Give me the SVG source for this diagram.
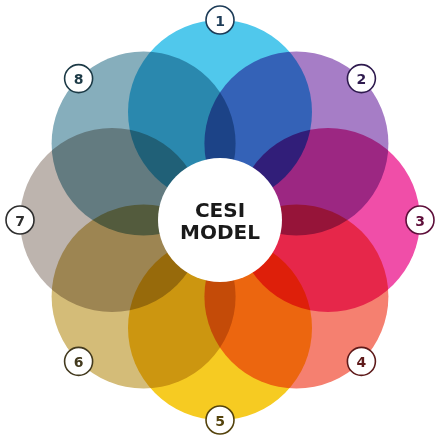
<svg xmlns="http://www.w3.org/2000/svg" width="440" height="440" viewBox="0 0 440 440">
  <style>
    .petal { mix-blend-mode: multiply; }
    .badge { fill: #ffffff; stroke-width: 1.6; }
    .num { font-family: "DejaVu Sans", sans-serif; font-weight: bold; font-size: 14px; text-anchor: middle; dominant-baseline: central; }
    .title { font-family: "DejaVu Sans", sans-serif; font-weight: bold; font-size: 20px; text-anchor: middle; fill: #1a1a1a; }
  </style>
  <rect x="0" y="0" width="440" height="440" fill="#ffffff"/>
  <g id="node-1">
    <circle class="petal" cx="220" cy="112" r="92" fill="#50C8EC"/>
    <circle class="badge" cx="220" cy="20" r="14" stroke="#1c3b57"/>
    <text class="num" x="220" y="20.5" fill="#1c3b57">1</text>
  </g>
  <g id="node-2">
    <circle class="petal" cx="296.4" cy="143.6" r="92" fill="#A67DC6"/>
    <circle class="badge" cx="361.4" cy="78.6" r="14" stroke="#2e1a4e"/>
    <text class="num" x="361.4" y="79.1" fill="#2e1a4e">2</text>
  </g>
  <g id="node-3">
    <circle class="petal" cx="328" cy="220" r="92" fill="#F04EA8"/>
    <circle class="badge" cx="420" cy="220" r="14" stroke="#5e0f3a"/>
    <text class="num" x="420" y="220.5" fill="#5e0f3a">3</text>
  </g>
  <g id="node-4">
    <circle class="petal" cx="296.4" cy="296.4" r="92" fill="#F58070"/>
    <circle class="badge" cx="361.4" cy="361.4" r="14" stroke="#5e1a1a"/>
    <text class="num" x="361.4" y="361.9" fill="#5e1a1a">4</text>
  </g>
  <g id="node-5">
    <circle class="petal" cx="220" cy="328" r="92" fill="#F6CB22"/>
    <circle class="badge" cx="220" cy="420" r="14" stroke="#54430c"/>
    <text class="num" x="220" y="420.5" fill="#54430c">5</text>
  </g>
  <g id="node-6">
    <circle class="petal" cx="143.6" cy="296.4" r="92" fill="#D4BC78"/>
    <circle class="badge" cx="78.6" cy="361.4" r="14" stroke="#433a1e"/>
    <text class="num" x="78.6" y="361.9" fill="#433a1e">6</text>
  </g>
  <g id="node-7">
    <circle class="petal" cx="112" cy="220" r="92" fill="#BDB4AE"/>
    <circle class="badge" cx="20" cy="220" r="14" stroke="#2e2e2e"/>
    <text class="num" x="20" y="220.5" fill="#2e2e2e">7</text>
  </g>
  <g id="node-8">
    <circle class="petal" cx="143.6" cy="143.6" r="92" fill="#86AEBC"/>
    <circle class="badge" cx="78.6" cy="78.6" r="14" stroke="#1c3a46"/>
    <text class="num" x="78.6" y="79.1" fill="#1c3a46">8</text>
  </g>
  <g id="center">
    <circle cx="220" cy="220" r="62" fill="#ffffff"/>
    <text class="title" x="220" y="217">CESI</text>
    <text class="title" x="220" y="239">MODEL</text>
  </g>
</svg>
